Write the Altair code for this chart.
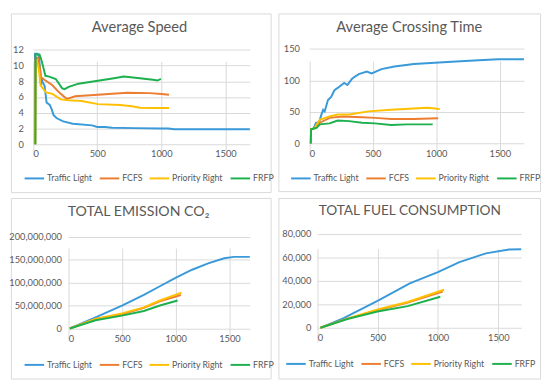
import altair as alt
import pandas as pd

SERIES = ["Traffic Light", "FCFS", "Priority Right", "FRFP"]
COLORS = ["#3A9AD9", "#ED7D31", "#FFC000", "#1DB04E"]

# ---- Average Speed ----
speed_tl_x = [13, 15, 35, 45, 55, 62, 68, 72, 90, 105, 130, 146, 160, 185, 235, 310, 460, 500, 560, 615, 790, 1000, 1055, 1100, 1690]
speed_tl_y = [0, 11.5, 11.5, 11.2, 9.5, 7.5, 8.4, 8.0, 7.4, 5.3, 5.0, 4.4, 3.7, 3.3, 2.9, 2.6, 2.4, 2.2, 2.2, 2.1, 2.05, 2.0, 2.0, 1.9, 1.9]
speed_fcfs_x = [17, 20, 38, 50, 63, 88, 151, 202, 252, 270, 328, 505, 732, 909, 1000, 1060]
speed_fcfs_y = [0, 11.0, 11.0, 10.0, 8.5, 8.2, 7.5, 6.6, 5.9, 5.8, 6.1, 6.3, 6.55, 6.5, 6.4, 6.3]
speed_pr_x = [16, 20, 30, 45, 58, 101, 151, 215, 278, 379, 505, 682, 783, 833, 950, 1060]
speed_pr_y = [0, 10.6, 10.6, 9.5, 7.5, 6.6, 6.4, 5.7, 5.6, 5.5, 5.1, 5.0, 4.8, 4.65, 4.6, 4.6]
speed_frfp_x = [18, 20, 50, 63, 76, 96, 126, 177, 227, 245, 278, 354, 480, 631, 707, 833, 934, 970, 997]
speed_frfp_y = [0, 11.4, 11.4, 10.8, 10.0, 8.7, 8.6, 8.3, 7.1, 7.0, 7.3, 7.7, 8.0, 8.4, 8.6, 8.4, 8.2, 8.1, 8.3]

# ---- Average Crossing Time ----
cross_tl_x = [13, 15, 33, 54, 79, 95, 110, 122, 148, 173, 199, 237, 275, 301, 339, 390, 454, 492, 569, 671, 824, 989, 1155, 1334, 1487, 1690]
cross_tl_y = [0, 22.7, 23.7, 33, 34, 45, 53.6, 51, 69, 74, 84.5, 90, 96, 93, 103, 110, 114, 111, 118, 122, 126, 128, 130, 132, 133.5, 133.5]
cross_fcfs_x = [13, 15, 40, 84, 161, 263, 416, 518, 645, 824, 1015]
cross_fcfs_y = [0, 22.7, 24, 33, 40.7, 43, 41.7, 40.7, 39, 39, 40]
cross_pr_x = [13, 15, 40, 84, 161, 224, 314, 467, 645, 824, 926, 977, 1028]
cross_pr_y = [0, 22.7, 24, 38, 43, 46, 46, 51, 53.6, 55.7, 56.7, 56, 54.6]
cross_frfp_x = [13, 15, 59, 84, 161, 224, 314, 416, 518, 645, 773, 972]
cross_frfp_y = [0, 22.7, 25, 30.4, 32, 36.6, 35.6, 33, 32, 29.4, 30.4, 30.4]

# ---- Total Emission CO2 ----
co2_tl_x = [15, 254, 500, 704, 853, 1003, 1153, 1302, 1452, 1542, 1690]
co2_tl_y = [0, 24e6, 50e6, 73e6, 92e6, 111e6, 128e6, 142e6, 153e6, 156e6, 156e6]
co2_fcfs_x = [15, 254, 500, 704, 853, 1048]
co2_fcfs_y = [0, 21e6, 31e6, 45e6, 59e6, 73e6]
co2_pr_x = [15, 254, 500, 704, 853, 1055]
co2_pr_y = [0, 21e6, 33e6, 46e6, 61e6, 78e6]
co2_frfp_x = [15, 254, 500, 704, 853, 1018]
co2_frfp_y = [0, 18e6, 28e6, 38e6, 50e6, 61e6]

# ---- Total Fuel Consumption ----
fuel_tl_x = [27, 219, 500, 767, 1000, 1178, 1397, 1589, 1690]
fuel_tl_y = [0, 8200, 23000, 38000, 47500, 56000, 63500, 66800, 67000]
fuel_fcfs_x = [27, 250, 500, 750, 1040]
fuel_fcfs_y = [0, 7800, 15000, 21500, 31000]
fuel_pr_x = [27, 250, 500, 750, 1050]
fuel_pr_y = [0, 7800, 15600, 22000, 32500]
fuel_frfp_x = [27, 250, 500, 750, 1020]
fuel_frfp_y = [0, 7500, 13900, 18500, 26500]

X_TICKS = [0, 500, 1000, 1500]
X_MAX = 1690
FONT = "Lato"
GRAY = "#595959"
FRAME = "#D9D9D9"


def make_df(pairs):
    rows = []
    for name, (xs, ys) in zip(SERIES, pairs):
        for i, (xv, yv) in enumerate(zip(xs, ys)):
            rows.append({"series": name, "x": xv, "y": yv, "i": i})
    return pd.DataFrame(rows)


def panel(title, tsize, pairs, box, area, ydom, yticks, yfmt, ylabpad, tpos, lpos):
    # box = (frame width, frame height); area = (left, right, top, bottom) of the data area
    W, H = box
    left, right, top, bottom = area
    df = make_df(pairs)
    lines = alt.Chart(df).mark_line(strokeWidth=2).encode(
        x=alt.X("x:Q", scale=alt.Scale(domain=[0, X_MAX], range=[left, right], nice=False),
                axis=alt.Axis(values=X_TICKS, title=None, labelPadding=5, format="d",
                              offset=-(H - bottom))),
        y=alt.Y("y:Q", scale=alt.Scale(domain=ydom, range=[bottom, top], nice=False),
                axis=alt.Axis(values=yticks, title=None, format=yfmt, labelPadding=ylabpad,
                              offset=-left)),
        color=alt.Color("series:N", scale=alt.Scale(domain=SERIES, range=COLORS),
                        legend=alt.Legend(orient="none", legendX=lpos[0], legendY=lpos[1],
                                          direction="horizontal", title=None,
                                          symbolType="stroke", symbolSize=400,
                                          symbolStrokeWidth=2, labelFont=FONT,
                                          labelFontSize=9, labelColor=GRAY,
                                          columnPadding=3, labelOffset=2, padding=0)),
        order="i:Q",
    )
    one = alt.Data(values=[{}])
    ttl = alt.Chart(one).mark_text(text=title, font=FONT, fontSize=tsize, color=GRAY,
                                   align="center", baseline="middle").encode(
        x=alt.value(tpos[0]), y=alt.value(tpos[1]))
    return alt.layer(lines, ttl).properties(width=W, height=H)


tl = panel("Average Speed", 15,
           [(speed_tl_x, speed_tl_y), (speed_fcfs_x, speed_fcfs_y),
            (speed_pr_x, speed_pr_y), (speed_frfp_x, speed_frfp_y)],
           (266, 183), (22.7, 244.7, 37.3, 134), [0, 12], [0, 2, 4, 6, 8, 10, 12], "d", 10,
           (131.7, 14), (13, 158))
tr = panel("Average Crossing Time", 15,
           [(cross_tl_x, cross_tl_y), (cross_fcfs_x, cross_fcfs_y),
            (cross_pr_x, cross_pr_y), (cross_frfp_x, cross_frfp_y)],
           (268, 182), (31.5, 251.5, 36.3, 133.3), [0, 150], [0, 50, 100, 150], "d", 10,
           (134, 14), (12, 158))
bl = panel("TOTAL EMISSION CO₂", 14.5,
           [(co2_tl_x, co2_tl_y), (co2_fcfs_x, co2_fcfs_y),
            (co2_pr_x, co2_pr_y), (co2_frfp_x, co2_frfp_y)],
           (266, 185), (58.7, 244.7, 39.7, 133.7), [0, 200e6],
           [0, 50e6, 100e6, 150e6, 200e6], ",d", 7,
           (130.7, 14), (13, 160))
br = panel("TOTAL FUEL CONSUMPTION", 14,
           [(fuel_tl_x, fuel_tl_y), (fuel_fcfs_x, fuel_fcfs_y),
            (fuel_pr_x, fuel_pr_y), (fuel_frfp_x, fuel_frfp_y)],
           (268, 185), (39.7, 248.7, 37, 133), [0, 80000],
           [0, 20000, 40000, 60000, 80000], ",d", 6.5,
           (134.5, 13), (7, 159))

chart = alt.concat(tl, tr, bl, br, columns=2, spacing=alt.RowColnumber(row=4, column=2)
                   ).resolve_scale(color="independent").resolve_legend(
    color="independent").properties(padding=0).configure_view(
    stroke=FRAME, strokeWidth=1).configure_axis(
    domain=False, ticks=False, gridColor="#D9D9D9", gridWidth=1, labelColor=GRAY,
    labelFont=FONT, labelFontSize=9.5)

chart.save("out.html", embed_options={"renderer": "svg", "actions": False})
